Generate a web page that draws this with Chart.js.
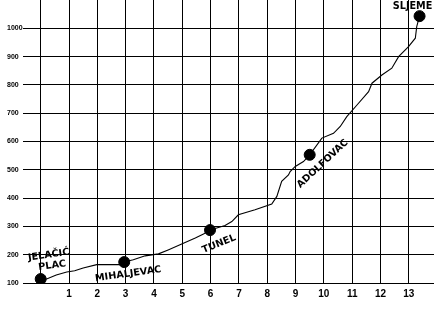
<!DOCTYPE html>
<html>
<head>
<meta charset="utf-8">
<script src="https://cdn.jsdelivr.net/npm/chart.js@4.4.1/dist/chart.umd.min.js"></script>
<style>
  body { margin: 0; background: #fff; }
</style>
</head>
<body>
<canvas id="chart-route" width="434" height="311"></canvas>
<script>
// route profile (distance km, altitude m)
var pathX = [0, 0.21, 0.55, 0.92, 1.2, 1.5, 1.98, 2.86, 2.95, 3.27, 3.69, 4.16, 4.5, 4.98, 5.46, 5.75, 5.98,
	6.51, 6.75, 6.98, 7.57, 8.16, 8.34, 8.51, 8.75, 8.81, 8.99, 9.28, 9.5, 9.93, 10.34, 10.58, 10.81,
	11.17, 11.58, 11.7, 12.05, 12.4, 12.64, 12.99, 13.23, 13.28, 13.38]
var pathY = [114, 114, 128, 139, 143, 153, 165, 165, 174, 182, 196, 203, 217, 238, 259, 273, 287,
	303, 317, 341, 359, 379, 406, 459, 482, 494, 512, 529, 553, 612, 629, 653, 688,
	729, 776, 806, 835, 859, 900, 935, 965, 1006, 1043]

// stations
var stationNames = ['JELAČIĆ\nPLAC', 'MIHALJEVAC', 'TUNEL', 'ADOLFOVAC', 'SLJEME']
var stationX = [0, 2.95, 5.98, 9.5, 13.38]
var stationY = [114, 174, 287, 553, 1043]

// tick labels
var xTicks = [0, 1, 2, 3, 4, 5, 6, 7, 8, 9, 10, 11, 12, 13]
var yTicks = [100, 200, 300, 400, 500, 600, 700, 800, 900, 1000]

// label placement relative to each station marker (px), rotation in degrees
var labelStyle = [
	{dx: 8, dy: -24, rot: -8},
	{dx: 4, dy: 12, rot: -8},
	{dx: 9, dy: 14, rot: -22},
	{dx: 13, dy: 9, rot: -43},
	{dx: -7, dy: -10, rot: 0}
]

var stationLabels = {
	id: 'stationLabels',
	afterDatasetsDraw: function(chart) {
		var ctx = chart.ctx
		var x = chart.scales.x, y = chart.scales.y
		ctx.save()
		ctx.fillStyle = '#000'
		ctx.font = 'bold 9.7px "DejaVu Sans"'
		ctx.textAlign = 'center'
		ctx.textBaseline = 'middle'
		stationNames.forEach(function(name, i) {
			var s = labelStyle[i]
			var px = x.getPixelForValue(stationX[i]) + s.dx
			var py = y.getPixelForValue(stationY[i]) + s.dy
			ctx.save()
			ctx.translate(px, py)
			ctx.rotate(s.rot * Math.PI / 180)
			name.split('\n').forEach(function(line, j) {
				ctx.fillText(line, j * 2, j * 11)
			})
			ctx.restore()
		})
		ctx.restore()
	}
}

var ctx = document.getElementById('chart-route').getContext('2d')
var chart = new Chart(ctx, {
	type: 'scatter',
	data: {
		datasets: [{
			type: 'line',
			data: pathX.map(function(v, i) { return {x: v, y: pathY[i]} }),
			borderColor: '#000',
			borderWidth: 1.1,
			pointRadius: 0,
			fill: false,
			tension: 0
		}, {
			data: stationX.map(function(v, i) { return {x: v, y: stationY[i]} }),
			backgroundColor: '#000',
			borderColor: '#000',
			pointRadius: 5.5
		}]
	},
	options: {
		responsive: false,
		animation: false,
		layout: { autoPadding: false, padding: { left: 7, top: 0, right: 0, bottom: 0 } },
		plugins: { legend: { display: false }, tooltip: { enabled: false } },
		scales: {
			x: {
				type: 'linear',
				min: -0.625,
				max: 13.89,
				afterBuildTicks: function(s) { s.ticks = xTicks.map(function(v) { return {value: v} }) },
				afterFit: function(s) { s.height = 28; s.paddingLeft = 0; s.paddingRight = 0 },
				grid: { color: '#000', lineWidth: 1, drawTicks: false },
				border: { display: false },
				ticks: {
					color: '#000',
					padding: 5,
					maxRotation: 0,
					autoSkip: false,
					font: { family: '"Liberation Sans"', size: 10, weight: 'bold' },
					callback: function(v) { return v === 0 ? '' : String(v) }
				}
			},
			y: {
				min: 100,
				max: 1100,
				afterBuildTicks: function(s) { s.ticks = yTicks.map(function(v) { return {value: v} }) },
				afterFit: function(s) { s.width = 16; s.paddingTop = 0; s.paddingBottom = 0 },
				grid: { color: '#000', lineWidth: 1, drawTicks: false },
				border: { display: false },
				ticks: {
					color: '#000',
					crossAlign: 'far',
					font: { family: '"Liberation Sans"', size: 7, weight: 'bold' },
					callback: function(v) { return String(v) }
				}
			}
		}
	},
	plugins: [stationLabels]
})
</script>
</body>
</html>
